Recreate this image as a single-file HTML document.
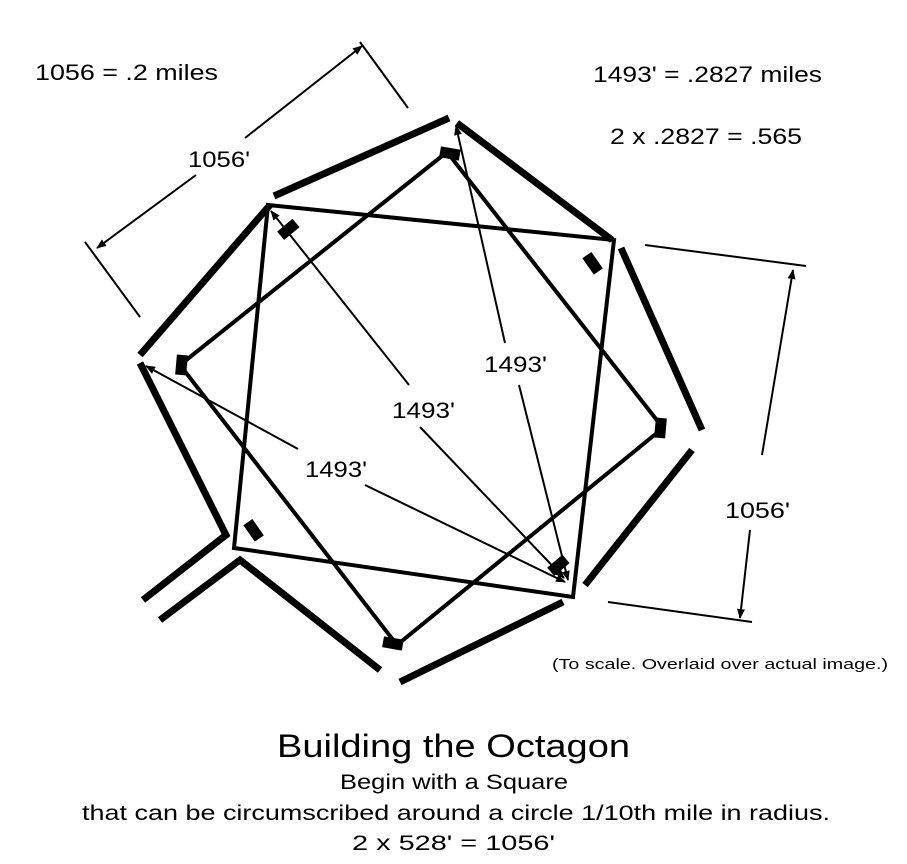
<!DOCTYPE html>
<html><head><style>body{margin:0;background:#fff}svg{display:block}text{font-family:"Liberation Sans",sans-serif;fill:#000}</style></head><body>
<svg width="907" height="864" viewBox="0 0 907 864" xmlns="http://www.w3.org/2000/svg">
<defs><marker id="a" markerWidth="10" markerHeight="8" refX="9" refY="4" orient="auto" markerUnits="userSpaceOnUse"><path d="M0,0 L10,4 L0,8 Z" fill="#000"/></marker></defs>
<g stroke="#000" stroke-width="7" fill="none" stroke-linecap="butt">
<line x1="274" y1="196" x2="449" y2="118"/>
<line x1="457" y1="123" x2="612" y2="240"/>
<line x1="621" y1="248" x2="702" y2="430"/>
<line x1="692" y1="450" x2="585" y2="585"/>
<line x1="563" y1="602" x2="400" y2="682"/>
<polyline points="380,670 240,560 160,620"/>
<polyline points="140,363 226,535 143,600"/>
<line x1="140" y1="355" x2="270" y2="205"/>
</g>
<g stroke="#000" stroke-width="4" fill="none" stroke-linejoin="miter">
<polygon points="268,205 614,240 573,597 234,548"/>
<polygon points="447,152 663,428 397,645 180,365"/>
</g>
<g fill="#000">
<rect x="-10" y="-5" width="20" height="11" transform="translate(288,229) rotate(-40)"/>
<rect x="-10" y="-5" width="20" height="11" transform="translate(593,263) rotate(55)"/>
<rect x="-10" y="-5" width="20" height="11" transform="translate(182,365) rotate(95)"/>
<rect x="-10" y="-5" width="20" height="11" transform="translate(661,428) rotate(95)"/>
<rect x="-10" y="-5" width="20" height="11" transform="translate(450,153) rotate(10)"/>
<rect x="-10" y="-5" width="20" height="11" transform="translate(558,565) rotate(-40)"/>
<rect x="-10" y="-5" width="20" height="11" transform="translate(254,530) rotate(55)"/>
<rect x="-10" y="-5" width="20" height="11" transform="translate(393,643) rotate(10)"/>
</g>
<g stroke="#000" stroke-width="2" fill="none">
<line x1="85" y1="242" x2="140" y2="317"/>
<line x1="360" y1="42" x2="408" y2="108"/>
<line x1="196" y1="175" x2="97" y2="248" marker-end="url(#a)"/>
<line x1="245" y1="138" x2="362" y2="46" marker-end="url(#a)"/>
<line x1="645" y1="245" x2="806" y2="266"/>
<line x1="608" y1="602" x2="752" y2="622"/>
<line x1="762" y1="455" x2="793" y2="270" marker-end="url(#a)"/>
<line x1="750" y1="530" x2="740" y2="618" marker-end="url(#a)"/>
<line x1="409" y1="385" x2="271" y2="211" marker-end="url(#a)"/>
<line x1="420" y1="427" x2="564" y2="578" marker-end="url(#a)"/>
<line x1="298" y1="449" x2="146" y2="366" marker-end="url(#a)"/>
<line x1="365" y1="485" x2="565" y2="582" marker-end="url(#a)"/>
<line x1="505" y1="343" x2="456" y2="126" marker-end="url(#a)"/>
<line x1="519" y1="385" x2="568" y2="580" marker-end="url(#a)"/>
</g>
<g font-size="22" lengthAdjust="spacingAndGlyphs">
<text x="35" y="80" textLength="183" lengthAdjust="spacingAndGlyphs">1056 = .2 miles</text>
<text x="593" y="82" textLength="229" lengthAdjust="spacingAndGlyphs">1493' = .2827 miles</text>
<text x="610" y="144" textLength="192" lengthAdjust="spacingAndGlyphs">2 x .2827 = .565</text>
<text x="188" y="167" textLength="62" lengthAdjust="spacingAndGlyphs">1056'</text>
<text x="725" y="518" textLength="65" lengthAdjust="spacingAndGlyphs">1056'</text>
<text x="484" y="372" textLength="63" lengthAdjust="spacingAndGlyphs">1493'</text>
<text x="392" y="418" textLength="63" lengthAdjust="spacingAndGlyphs">1493'</text>
<text x="305" y="477" textLength="62" lengthAdjust="spacingAndGlyphs">1493'</text>
</g>
<text x="552" y="669" font-size="15" textLength="336" lengthAdjust="spacingAndGlyphs">(To scale. Overlaid over actual image.)</text>
<text x="277" y="757" font-size="32" textLength="353" lengthAdjust="spacingAndGlyphs">Building the Octagon</text>
<g font-size="21">
<text x="340" y="789" textLength="228" lengthAdjust="spacingAndGlyphs">Begin with a Square</text>
<text x="82" y="820" textLength="748" lengthAdjust="spacingAndGlyphs">that can be circumscribed around a circle 1/10th mile in radius.</text>
<text x="352" y="850" textLength="203" lengthAdjust="spacingAndGlyphs">2 x 528' = 1056'</text>
</g>
</svg>
</body></html>
